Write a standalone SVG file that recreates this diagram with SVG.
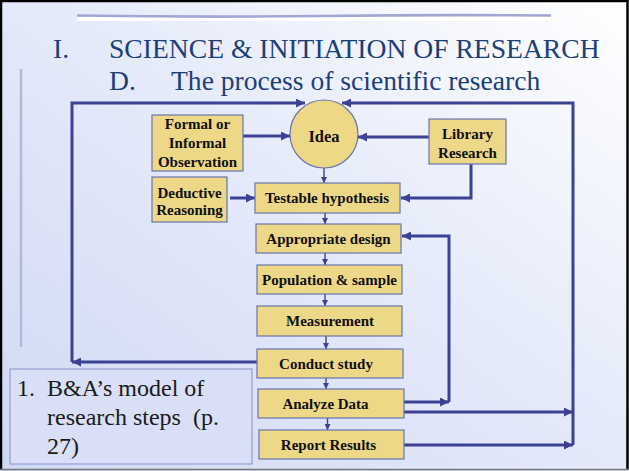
<svg xmlns="http://www.w3.org/2000/svg" width="629" height="471" viewBox="0 0 629 471">
  <defs>
    <linearGradient id="bg" x1="0" y1="1" x2="1" y2="0">
      <stop offset="0" stop-color="#d0d9f4"/>
      <stop offset="0.55" stop-color="#e6ebfa"/>
      <stop offset="1" stop-color="#ffffff"/>
    </linearGradient>
    <marker id="head" viewBox="0 0 10 10" refX="10" refY="5" markerWidth="11" markerHeight="9" markerUnits="userSpaceOnUse" orient="auto">
      <path d="M0,0 L10,5 L0,10 Z" fill="#3b4193"/>
    </marker>
    <marker id="headSmall" viewBox="0 0 10 10" refX="10" refY="5" markerWidth="6" markerHeight="6" markerUnits="userSpaceOnUse" orient="auto">
      <path d="M0,0 L10,5 L0,10 Z" fill="#3b4193"/>
    </marker>
    <style>
      text { font-family: 'Liberation Serif', 'Times New Roman', serif; }
      .title { font-size: 27.6px; fill: #1d3f78; }
      .box { fill: #ecd887; stroke: #6a74ad; stroke-width: 1.2; }
      .lbl { font-weight: bold; font-size: 15px; fill: #111; text-anchor: middle; }
      .thick { fill: none; stroke: #3b4193; stroke-width: 3; }
      .thin { fill: none; stroke: #3b4193; stroke-width: 1.4; }
      .note { font-size: 24px; fill: #1a1a1a; }
    </style>
  </defs>

  <!-- slide background and frame -->
  <rect x="0" y="0" width="629" height="471" fill="url(#bg)"/>
  <path d="M1,470 L1,1 L627.5,1 L627.5,470" fill="none" stroke="#000" stroke-width="2.5"/>
  <line x1="0" y1="469.5" x2="629" y2="469.5" stroke="#777" stroke-width="1.5"/>

  <!-- decorative strokes -->
  <rect x="77" y="16" width="474" height="5" fill="#ffffff"/>
  <path d="M77,15.5 Q200,17.5 320,16 T551,15.5" fill="none" stroke="#a1a7d3" stroke-width="2.6"/>
  <line x1="21" y1="69" x2="21" y2="347" stroke="#b3b8dc" stroke-width="2.5"/>

  <!-- headings -->
  <text class="title" x="53" y="58">I.</text>
  <text class="title" x="109" y="58">SCIENCE &amp; INITIATION OF RESEARCH</text>
  <text class="title" x="109" y="90">D.</text>
  <text class="title" x="171" y="90">The process of scientific research</text>

  <!-- connectors -->
  <g id="connectors">
    <path class="thick" d="M72,362 L72,103 L305,103" marker-end="url(#head)"/>
    <path class="thick" d="M573,445 L573,103 L342,103" marker-end="url(#head)"/>
    <path class="thick" d="M243,136 L290,136" marker-end="url(#head)"/>
    <path class="thick" d="M429,137 L358,137" marker-end="url(#head)"/>
    <path class="thick" d="M230,198 L255,198" marker-end="url(#head)"/>
    <path class="thick" d="M471,164 L471,198 L401,198" marker-end="url(#head)"/>
    <path class="thick" d="M449,402 L449,236 L402,236" marker-end="url(#head)"/>
    <path class="thick" d="M404,402 L449,402" marker-end="url(#head)"/>
    <path class="thick" d="M404,412 L573,412" marker-end="url(#head)"/>
    <path class="thick" d="M404,445 L573,445" marker-end="url(#head)"/>
    <path class="thick" d="M257,362 L72,362" marker-end="url(#head)"/>
    <path class="thin" d="M324,168 L324,183" marker-end="url(#headSmall)"/>
    <path class="thin" d="M325,213 L325,224" marker-end="url(#headSmall)"/>
    <path class="thin" d="M325,253 L325,265" marker-end="url(#headSmall)"/>
    <path class="thin" d="M325,294 L325,306" marker-end="url(#headSmall)"/>
    <path class="thin" d="M326,336 L326,349" marker-end="url(#headSmall)"/>
    <path class="thin" d="M326,378 L326,389" marker-end="url(#headSmall)"/>
    <path class="thin" d="M327.5,418 L327.5,430" marker-end="url(#headSmall)"/>
  </g>

  <!-- nodes -->
  <g id="observation">
    <rect class="box" x="152" y="115" width="91" height="56"/>
    <text class="lbl" x="197.5" y="129">Formal or</text>
    <text class="lbl" x="197.5" y="148">Informal</text>
    <text class="lbl" x="197.5" y="167">Observation</text>
  </g>
  <g id="idea">
    <circle class="box" cx="324" cy="134" r="34"/>
    <text class="lbl" x="324" y="142" style="font-size:16.5px">Idea</text>
  </g>
  <g id="library">
    <rect class="box" x="429" y="119" width="77" height="45"/>
    <text class="lbl" x="467.5" y="139">Library</text>
    <text class="lbl" x="467.5" y="158">Research</text>
  </g>
  <g id="deductive">
    <rect class="box" x="152" y="177" width="75" height="45"/>
    <text class="lbl" x="189.5" y="198">Deductive</text>
    <text class="lbl" x="189.5" y="215">Reasoning</text>
  </g>
  <g id="hypothesis">
    <rect class="box" x="255" y="183" width="145" height="30"/>
    <text class="lbl" x="327" y="203">Testable hypothesis</text>
  </g>
  <g id="design">
    <rect class="box" x="256" y="224" width="145" height="29"/>
    <text class="lbl" x="328.5" y="244">Appropriate design</text>
  </g>
  <g id="population">
    <rect class="box" x="257" y="265" width="145" height="29"/>
    <text class="lbl" x="329.5" y="285">Population &amp; sample</text>
  </g>
  <g id="measurement">
    <rect class="box" x="257" y="306" width="145" height="30"/>
    <text class="lbl" x="330" y="326">Measurement</text>
  </g>
  <g id="conduct">
    <rect class="box" x="257" y="349" width="146" height="29"/>
    <text class="lbl" x="326" y="369">Conduct study</text>
  </g>
  <g id="analyze">
    <rect class="box" x="258" y="389" width="146" height="29"/>
    <text class="lbl" x="325.5" y="409">Analyze Data</text>
  </g>
  <g id="report">
    <rect class="box" x="259" y="430" width="145" height="29"/>
    <text class="lbl" x="328.5" y="450">Report Results</text>
  </g>

  <!-- caption box -->
  <g id="caption">
    <rect x="10" y="369" width="242" height="95" fill="#d8dff7" stroke="#8991c6" stroke-width="1"/>
    <text class="note" x="17" y="396">1.</text>
    <text class="note" x="47" y="396">B&amp;A’s model of</text>
    <text class="note" x="47" y="425" xml:space="preserve">research steps  (p.</text>
    <text class="note" x="47" y="454">27)</text>
  </g>
</svg>
